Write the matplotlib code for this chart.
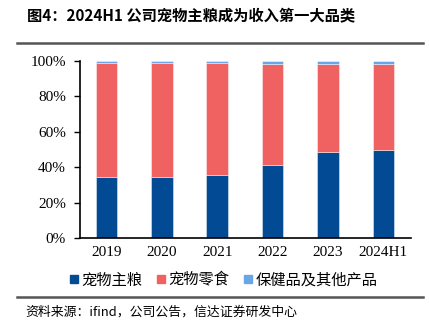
import matplotlib
matplotlib.use("Agg")
import matplotlib.pyplot as plt
from matplotlib.lines import Line2D
from matplotlib.ticker import PercentFormatter

years = ["2019", "2020", "2021", "2022", "2023", "2024H1"]
main_food = [34.3, 34.7, 35.4, 41.1, 48.5, 49.6]
snacks = [64.7, 64.3, 63.6, 57.4, 50.0, 48.9]
others = [1.0, 1.0, 1.0, 1.5, 1.5, 1.5]
series_names = ["宠物主粮", "宠物零食", "保健品及其他产品"]
colors = ["#024B94", "#F06161", "#6AA5E8"]

cjk = ["Noto Sans CJK SC", "DejaVu Sans"]
serif = ["Liberation Serif", "DejaVu Serif"]

fig = plt.figure(figsize=(4.29, 3.26), dpi=100)
ax = fig.add_axes([0.1865, 0.27, 0.7715, 0.543])

x = range(len(years))
w = 0.39
bottom = [0.0] * len(years)
for vals, name, c in zip([main_food, snacks, others], series_names, colors):
    ax.bar(x, vals, w, bottom=bottom, color=c, label=name,
           edgecolor=(1, 1, 1, 0.5), linewidth=0.6)
    bottom = [b + v for b, v in zip(bottom, vals)]

ax.set_ylim(0, 100)
ax.set_xlim(-0.48, 5.5)
ax.set_yticks(range(0, 101, 20))
ax.yaxis.set_major_formatter(PercentFormatter(decimals=0))
ax.set_xticks(list(x))
ax.set_xticklabels(years)
for lab in ax.get_xticklabels() + ax.get_yticklabels():
    lab.set_fontfamily(serif)
    lab.set_fontsize(11)
ax.tick_params(axis="x", length=0, pad=6)
ax.tick_params(axis="y", length=4, width=1, direction="out", pad=6)
ax.spines["top"].set_visible(False)
ax.spines["right"].set_visible(False)
ax.spines["left"].set_linewidth(1.2)
ax.spines["bottom"].set_linewidth(1.2)

handles = [Line2D([], [], marker="s", linestyle="none", markersize=6,
                  markerfacecolor=c, markeredgecolor=c) for c in colors]
fig.legend(handles, series_names, loc="center", bbox_to_anchor=(0.52, 0.141),
           ncol=3, frameon=False, prop={"family": cjk, "size": 11},
           handletextpad=0.1, columnspacing=0.9, handlelength=0.7)

fig.text(0.063, 0.953, "图4：2024H1 公司宠物主粮成为收入第一大品类",
         family=cjk, fontsize=11, fontweight="bold", va="center", ha="left")
fig.add_artist(Line2D([0.04, 0.986], [0.869, 0.869], color="#555555", linewidth=1.8))
fig.add_artist(Line2D([0.04, 0.986], [0.089, 0.089], color="#555555", linewidth=1.8))
fig.text(0.058, 0.043, "资料来源：ifind，公司公告，信达证券研发中心",
         family=cjk, fontsize=9.3, style="italic", va="center", ha="left")

fig.savefig("out.png", dpi=100)
